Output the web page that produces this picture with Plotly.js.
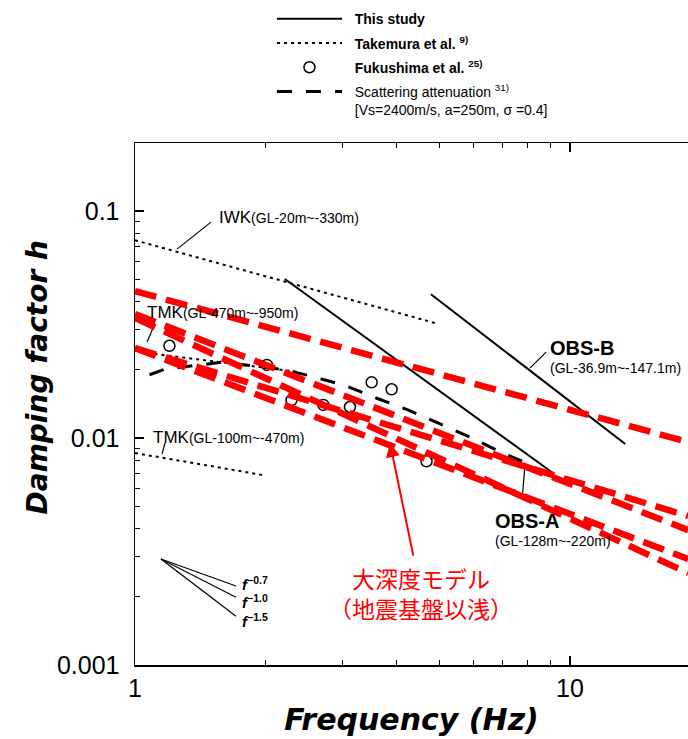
<!DOCTYPE html>
<html><head><meta charset="utf-8">
<script src="https://cdn.plot.ly/plotly-3.0.1.min.js"></script>
<style>body{margin:0;background:#fff}</style>
</head><body><div id="chart" style="width:688px;height:739px"></div>
<script>
// ---- This study (solid black) ----
const thisStudyA_f = [2.21, 9.14];
const thisStudyA_h = [0.0502, 0.00701];
const thisStudyB_f = [4.79, 13.4];
const thisStudyB_h = [0.0430, 0.00942];
// ---- Takemura et al. (dotted) ----
const iwk_f = [1.0, 4.9];
const iwk_h = [0.0744, 0.0321];
const tmk470_f = [1.03, 2.4];
const tmk470_h = [0.0239, 0.0195];
const tmk100_f = [1.0, 1.97];
const tmk100_h = [0.00859, 0.00687];
// ---- Fukushima et al. (open circles) ----
const fuku_f = [1.20, 2.01, 2.29, 2.71, 3.12, 3.50, 3.89, 4.68];
const fuku_h = [0.0255, 0.0210, 0.0147, 0.0140, 0.0137, 0.0176, 0.0164, 0.0079];
// ---- Scattering attenuation (long dash) ----
const scat_f = [1.08, 1.17, 1.59, 2.21, 2.58, 3.05, 3.62, 4.24, 5.0, 5.89, 6.90, 7.88];
const scat_h = [0.0190, 0.0201, 0.0216, 0.0200, 0.0186, 0.0170, 0.0149, 0.0133, 0.0116, 0.0101, 0.0087, 0.0078];
// ---- 大深度モデル (red dashed) ----
const model_f = [1.0, 18.7];
const modelA_h = [0.0444, 0.0096];
const modelB_h = [0.0249, 0.00453];
const modelC_h = [0.0352, 0.00393];
const modelD_h = [0.0249, 0.00293];
const modelE_h = [0.0338, 0.00254];
// ---- slope guides f^-0.7, f^-1.0, f^-1.5 ----
const guide_f = [1.147, 1.707];
const guide07_h = [0.00293, 0.00223];
const guide10_h = [0.00293, 0.00199];
const guide15_h = [0.00293, 0.00164];
// ---- leader lines for labels ----
const leadIWK_f = [1.249, 1.495], leadIWK_h = [0.0680, 0.0894];
const leadT470_f = [1.066, 1.100], leadT470_h = [0.0265, 0.0305];
const leadT100_f = [1.154, 1.172], leadT100_h = [0.0085, 0.00951];
const leadOBSB_f = [8.09, 8.81], leadOBSB_h = [0.02034, 0.02392];
const leadOBSA_f = [7.88, 7.76], leadOBSA_h = [0.0076, 0.00533];
// ---- tick labels ----
const xTickVals = [1, 10], xTickText = ['1', '10'];
const yTickVals = [0.001, 0.01, 0.1], yTickText = ['0.001', '0.01', '0.1'];
const xMinor = [2,3,4,5,6,7,8,9,20];
const yMinor = [0.002,0.003,0.004,0.005,0.006,0.007,0.008,0.009,0.02,0.03,0.04,0.05,0.06,0.07,0.08,0.09,0.2];

const joinSeg = (...arrs) => arrs.reduce((acc, a, i) => i ? acc.concat([null], a) : acc.concat(a), []);
const L = v => Math.log10(v);
const RED = '#ff0000';
const SP = '\u00a0\u00a0';

const traces = [
  {x: joinSeg(thisStudyA_f, thisStudyB_f), y: joinSeg(thisStudyA_h, thisStudyB_h), mode:'lines',
   name:SP+'<b>This study</b>', line:{color:'#000', width:2}, legendgroup:'a', connectgaps:false},
  {x: joinSeg(iwk_f, tmk470_f, tmk100_f), y: joinSeg(iwk_h, tmk470_h, tmk100_h), mode:'lines',
   name:SP+'<b>Takemura et al. <sup>9)</sup></b>', line:{color:'#000', width:2, dash:'3px,4px'}, legendgroup:'b', connectgaps:false},
  {x: fuku_f, y: fuku_h, mode:'markers', name:SP+'<b>Fukushima et al. <sup>25)</sup></b>',
   marker:{symbol:'circle-open', size:11, color:'#000', line:{width:1.5, color:'#000'}}, legendgroup:'c'},
  {x: scat_f, y: scat_h, mode:'lines', name:SP+'Scattering attenuation <sup>31)</sup><br>'+SP+'[Vs=2400m/s, a=250m, σ =0.4]',
   line:{color:'#000', width:3, dash:'15px,14px'}, legendgroup:'d'},
];
[[leadIWK_f,leadIWK_h],[leadT470_f,leadT470_h],[leadT100_f,leadT100_h],[leadOBSB_f,leadOBSB_h],[leadOBSA_f,leadOBSA_h],
 [guide_f,guide07_h],[guide_f,guide10_h],[guide_f,guide15_h]].forEach(([xf,yh])=>{
  traces.push({x:xf, y:yh, mode:'lines', line:{color:'#000', width:1.2}, showlegend:false, hoverinfo:'skip'});
});
[modelA_h, modelB_h, modelC_h, modelD_h, modelE_h].forEach(h=>{
  traces.push({x:model_f, y:h, mode:'lines', line:{color:RED, width:6.5, dash:'22px,10px'}, showlegend:false});
});

const blk = {family:'Arial, Liberation Sans, sans-serif', size:14, color:'#000'};
const ann = (f,h,text,extra) => Object.assign({x:L(f), y:L(h), xref:'x', yref:'y', text, showarrow:false,
  xanchor:'left', yanchor:'middle', font:blk, align:'left'}, extra||{});
const fFont = Object.assign({}, blk, {size:15});

const annotations = [
  ann(1.543, 0.0941, '<span style="font-size:17px">IWK</span>(GL-20m~-330m)'),
  ann(1.054, 0.0356, '<span style="font-size:17px">TMK</span>(GL-470m~-950m)'),
  ann(1.088, 0.0101, '<span style="font-size:17px">TMK</span>(GL-100m~-470m)'),
  ann(8.9, 0.02297, '<b><span style="font-size:20px">OBS-B</span></b><br>(GL-36.9m~-147.1m)'),
  ann(6.65, 0.003936, '<b><span style="font-size:20px">OBS-A</span></b><br>(GL-128m~-220m)'),
  ann(1.743, 0.002296, '<b><i>f</i><sup>−0.7</sup></b>', {font:fFont}),
  ann(1.743, 0.001895, '<b><i>f</i><sup>−1.0</sup></b>', {font:fFont}),
  ann(1.743, 0.001578, '<b><i>f</i><sup>−1.5</sup></b>', {font:fFont}),
  {x:L(3.857), y:L(0.00951), xref:'x', yref:'y', ax:31, ay:150, showarrow:true, arrowhead:2, arrowsize:1.4,
   arrowwidth:2, arrowcolor:RED, standoff:0, startstandoff:4, text:'大深度モデル<br>（地震基盤以浅）',
   font:{family:'Noto Sans CJK JP, sans-serif', size:23, color:RED}},
  {x:-0.2098, y:0.5517, xref:'paper', yref:'paper', showarrow:false, textangle:-90,
   text:'Damping factor <i>h</i>', font:{family:'DejaVu Sans, sans-serif', size:28, weight:'bold', style:'italic', color:'#000'}},
];

const layout = {
  width:688, height:739,
  margin:{l:135, r:0, t:143, b:74},
  paper_bgcolor:'#fff', plot_bgcolor:'#fff',
  showlegend:true,
  legend:{x:0.2477, xref:'paper', xanchor:'left', y:1.2677, yanchor:'top', font:{family:'Arial, Liberation Sans, sans-serif', size:14, color:'#000'},
          itemwidth:65, traceorder:'grouped', tracegroupgap:3, valign:'top', bgcolor:'rgba(0,0,0,0)', borderwidth:0},
  xaxis:{type:'log', range:[0, 1.2713], tickvals:xTickVals, ticktext:xTickText, ticks:'inside', ticklen:9, tickwidth:1.5,
         tickcolor:'#000', showline:true, linecolor:'#000', linewidth:1.5, mirror:'allticks', showgrid:false, zeroline:false,
         tickfont:{family:'Arial, Liberation Sans, sans-serif', size:25, color:'#000'},
         minor:{tickvals:xMinor, ticks:'inside', ticklen:5, tickwidth:1, tickcolor:'#000', showgrid:false},
         title:{text:'Frequency (Hz)', standoff:8, font:{family:'DejaVu Sans, sans-serif', size:30, weight:'bold', style:'italic', color:'#000'}}},
  yaxis:{type:'log', range:[-3, -0.7], tickvals:yTickVals, ticktext:yTickText, ticks:'inside', ticklen:9, tickwidth:1.5,
         tickcolor:'#000', showline:true, linecolor:'#000', linewidth:1.5, mirror:false, showgrid:false, zeroline:false,
         ticklabelstandoff:9,
         tickfont:{family:'Arial, Liberation Sans, sans-serif', size:25, color:'#000'},
         minor:{tickvals:yMinor, ticks:'inside', ticklen:5, tickwidth:1, tickcolor:'#000', showgrid:false}},
  annotations
};
Plotly.newPlot('chart', traces, layout, {displayModeBar:false, staticPlot:true});
</script>
</body></html>
